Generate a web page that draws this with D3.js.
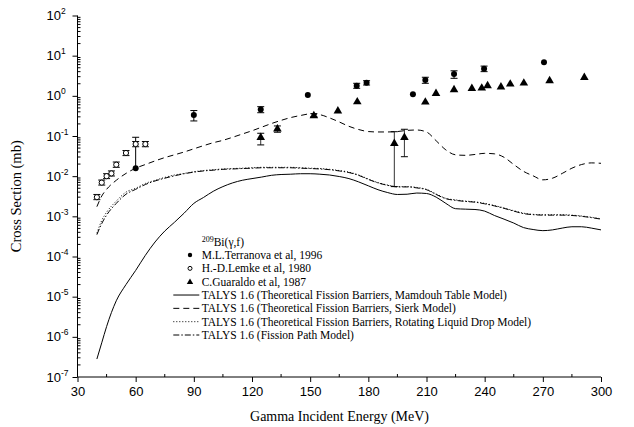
<!DOCTYPE html>
<html><head><meta charset="utf-8">
<script src="https://cdn.jsdelivr.net/npm/d3@7"></script>
<style>
html,body{margin:0;padding:0;background:#fff;}
svg{display:block;}
</style></head>
<body>
<svg id="chart" width="634" height="427"></svg>
<script>
// ---------------- data ----------------
const energyGrid = [40,42.5,45,50,55,60,65,70,75,80,85,90,95,100,105,110,115,120,125,130,135,140,145,150,155,160,165,170,175,180,185,190,195,200,205,210,215,220,225,230,235,240,245,250,255,260,265,270,275,280,285,290,295,300];

const mamdouh = [2.8e-7,7.1e-7,1.8e-6,7.9e-6,2.0e-5,4.5e-5,1.07e-4,2.3e-4,4.3e-4,7.1e-4,1.2e-3,2.1e-3,2.95e-3,4.2e-3,5.5e-3,6.8e-3,7.9e-3,8.7e-3,9.5e-3,1.05e-2,1.1e-2,1.12e-2,1.15e-2,1.15e-2,1.12e-2,1.07e-2,9.8e-3,8.7e-3,7.2e-3,5.75e-3,4.6e-3,3.9e-3,3.5e-3,3.55e-3,3.8e-3,3.7e-3,3.0e-3,2.1e-3,1.55e-3,1.51e-3,1.48e-3,1.35e-3,1.05e-3,8.5e-4,6.8e-4,5.25e-4,4.7e-4,4.4e-4,4.6e-4,5.1e-4,5.5e-4,5.5e-4,5.1e-4,4.6e-4];

const sierk = [1.74e-3,3.2e-3,4.7e-3,7.9e-3,1.17e-2,1.58e-2,1.95e-2,2.4e-2,2.9e-2,3.4e-2,4.0e-2,4.8e-2,5.75e-2,6.8e-2,7.8e-2,9.3e-2,0.112,0.135,0.166,0.204,0.245,0.288,0.324,0.355,0.339,0.282,0.224,0.174,0.145,0.129,0.126,0.126,0.129,0.138,0.141,0.126,0.076,0.045,0.034,0.033,0.0347,0.037,0.036,0.0295,0.0195,0.0132,0.0102,0.0081,0.0089,0.0117,0.0158,0.0195,0.0214,0.0209];

const rldm = [3.8e-4,7.9e-4,1.26e-3,2.4e-3,4.0e-3,5.0e-3,6.6e-3,7.9e-3,9.3e-3,1.07e-2,1.17e-2,1.29e-2,1.38e-2,1.45e-2,1.51e-2,1.55e-2,1.58e-2,1.62e-2,1.66e-2,1.66e-2,1.66e-2,1.66e-2,1.62e-2,1.58e-2,1.55e-2,1.48e-2,1.38e-2,1.26e-2,1.07e-2,8.5e-3,6.9e-3,6.0e-3,5.5e-3,5.5e-3,5.25e-3,4.7e-3,3.6e-3,2.8e-3,2.57e-3,2.4e-3,2.3e-3,2.1e-3,1.86e-3,1.62e-3,1.38e-3,1.2e-3,1.12e-3,1.1e-3,1.1e-3,1.1e-3,1.07e-3,1.02e-3,9.5e-4,8.7e-4];

const fissionPath = [3.5e-4,6.6e-4,1.07e-3,2.1e-3,3.55e-3,4.7e-3,6.2e-3,7.6e-3,8.9e-3,1.02e-2,1.15e-2,1.26e-2,1.35e-2,1.41e-2,1.48e-2,1.51e-2,1.55e-2,1.58e-2,1.62e-2,1.62e-2,1.62e-2,1.62e-2,1.58e-2,1.55e-2,1.51e-2,1.45e-2,1.35e-2,1.23e-2,1.05e-2,8.3e-3,6.8e-3,5.9e-3,5.4e-3,5.4e-3,5.1e-3,4.6e-3,3.5e-3,2.75e-3,2.5e-3,2.35e-3,2.25e-3,2.05e-3,1.82e-3,1.58e-3,1.35e-3,1.17e-3,1.1e-3,1.07e-3,1.07e-3,1.07e-3,1.05e-3,1.0e-3,9.3e-4,8.5e-4];

// Terranova 1996 (filled circles): energy, value, upper, lower (null = no bar)
const terranovaE   = [60, 90, 124.5, 148.8, 174, 179.1, 203, 209.4, 224.2, 239.7, 270.6];
const terranovaV   = [0.0157, 0.333, 0.46, 1.05, 1.79, 2.12, 1.09, 2.48, 3.5, 4.74, 6.84];
const terranovaHi  = [0.093, 0.43, 0.537, null, 2.05, 2.38, null, 2.9, 4.2, 5.5, null];
const terranovaLo  = [null, 0.237, 0.38, null, 1.54, 1.86, null, 2.05, 2.73, 4.0, null];

// Lemke 1980 (open circles)
const lemkeE  = [40, 42.5, 45, 47.5, 50, 55, 60, 65];
const lemkeV  = [0.0030, 0.0069, 0.0100, 0.0117, 0.0193, 0.0378, 0.063, 0.063];
const lemkeHi = [0.0035, 0.0080, 0.0115, 0.0135, 0.0225, 0.0435, 0.073, 0.073];
const lemkeLo = [0.0026, 0.0060, 0.0087, 0.0101, 0.0166, 0.0325, 0.054, 0.054];

// Guaraldo 1987 (triangles)
const guaraldoE  = [124.5, 133.1, 151.9, 164.3, 174.3, 193.4, 198.6, 209.4, 214.9, 224.2, 233.4, 238.5, 241.5, 248.4, 253.2, 260.2, 273.5, 291.4];
const guaraldoV  = [0.096, 0.156, 0.333, 0.44, 0.74, 0.068, 0.096, 0.73, 1.2, 1.48, 1.6, 1.63, 1.86, 1.73, 2.05, 2.17, 2.48, 3.0];
const guaraldoHi = [0.117, 0.178, 0.36, null, null, 0.128, 0.147, null, null, null, null, null, null, null, null, null, null, null];
const guaraldoLo = [0.060, 0.124, 0.30, null, null, 0.0055, 0.0305, null, null, null, null, null, null, null, null, null, null, null];

const xTicks = [30, 60, 90, 120, 150, 180, 210, 240, 270, 300];
const xMinorTicks = [45, 75, 105, 135, 165, 195, 225, 255, 285];
const yExponents = [2, 1, 0, -1, -2, -3, -4, -5, -6, -7];

const legendHeader = "Bi(γ,f)";
const legendHeaderSup = "209";
const legendLabels = [
  "M.L.Terranova et al, 1996",
  "H.-D.Lemke et al, 1980",
  "C.Guaraldo et al, 1987",
  "TALYS 1.6 (Theoretical Fission Barriers, Mamdouh Table Model)",
  "TALYS 1.6 (Theoretical Fission Barriers, Sierk Model)",
  "TALYS 1.6 (Theoretical Fission Barriers, Rotating Liquid Drop Model)",
  "TALYS 1.6 (Fission Path Model)"
];
const xTitle = "Gamma Incident Energy (MeV)";
const yTitle = "Cross Section (mb)";

// ---------------- drawing ----------------
const svg = d3.select("#chart");
const L = 77.5, R = 601, T = 15.5, B = 377;
const x = d3.scaleLinear().domain([30, 300]).range([L, R]);
const y = d3.scaleLog().domain([1e-7, 1e2]).range([B, T]);

const serif = "'Liberation Serif','Times New Roman',serif";
const sans = "'Liberation Sans',Arial,sans-serif";

// curves
const curves = [
  {vals: mamdouh, dash: null},
  {vals: sierk, dash: "6,4"},
  {vals: rldm, dash: "1,2"},
  {vals: fissionPath, dash: "6,2,1.5,2"}
];
const line = d3.line().x(d => x(d[0])).y(d => y(d[1])).curve(d3.curveMonotoneX);
curves.forEach(c => {
  svg.append("path")
    .attr("d", line(energyGrid.map((e, i) => [e, c.vals[i]])))
    .attr("fill", "none").attr("stroke", "#000").attr("stroke-width", 1)
    .attr("stroke-dasharray", c.dash);
});

// error bars helper
function errorBars(E, V, Hi, Lo, capW, color) {
  E.forEach((e, i) => {
    const cx = x(e);
    if (Hi[i] == null && Lo[i] == null) return;
    const top = Hi[i] != null ? y(Hi[i]) : y(V[i]);
    const bot = Lo[i] != null ? y(Lo[i]) : y(V[i]);
    svg.append("line").attr("x1", cx).attr("x2", cx).attr("y1", top).attr("y2", bot)
      .attr("stroke", color).attr("stroke-width", 1);
    if (Hi[i] != null) svg.append("line").attr("x1", cx - capW/2).attr("x2", cx + capW/2)
      .attr("y1", top).attr("y2", top).attr("stroke", "#000").attr("stroke-width", 1);
    if (Lo[i] != null) svg.append("line").attr("x1", cx - capW/2).attr("x2", cx + capW/2)
      .attr("y1", bot).attr("y2", bot).attr("stroke", "#000").attr("stroke-width", 1);
  });
}
errorBars(lemkeE, lemkeV, lemkeHi, lemkeLo, 7, "#000");
errorBars(terranovaE, terranovaV, terranovaHi, terranovaLo, 7, "#000");
errorBars(guaraldoE, guaraldoV, guaraldoHi, guaraldoLo, 7, "#333");

const tri = d3.symbol().type(d3.symbolTriangle);

// Lemke open circles
svg.selectAll(".lemke").data(lemkeE).enter().append("circle")
  .attr("cx", d => x(d)).attr("cy", (d, i) => y(lemkeV[i])).attr("r", 2.6)
  .attr("fill", "#fff").attr("stroke", "#000").attr("stroke-width", 1);
// Terranova filled circles
svg.selectAll(".terr").data(terranovaE).enter().append("circle")
  .attr("cx", d => x(d)).attr("cy", (d, i) => y(terranovaV[i])).attr("r", 3)
  .attr("fill", "#000");
// Guaraldo triangles
svg.selectAll(".guar").data(guaraldoE).enter().append("path")
  .attr("d", tri.size(32)())
  .attr("transform", (d, i) => `translate(${x(d)},${y(guaraldoV[i]) + 0.8})`)
  .attr("fill", "#000");

// axes
const axisG = svg.append("g");
axisG.append("line").attr("x1", L).attr("x2", R).attr("y1", B).attr("y2", B).attr("stroke", "#000");
axisG.append("line").attr("x1", L).attr("x2", L).attr("y1", T).attr("y2", B).attr("stroke", "#000");

const xAxis = d3.axisBottom(x).tickValues(xTicks).tickSize(5).tickSizeOuter(0).tickFormat(d3.format("d"));
const gx = svg.append("g").attr("transform", `translate(0,${B})`).call(xAxis);
gx.select(".domain").remove();
gx.selectAll("text").attr("font-family", sans).attr("font-size", 13).attr("dy", "0.95em").attr("y", 7);
svg.append("g").selectAll("line").data(xMinorTicks).enter().append("line")
  .attr("x1", d => x(d)).attr("x2", d => x(d)).attr("y1", B).attr("y2", B - 3)
  .attr("stroke", "#000");

// y axis: major ticks outward, minor inward
const yMajor = yExponents.map(e => Math.pow(10, e));
const yAxis = d3.axisLeft(y).tickValues(yMajor).tickSize(5).tickSizeOuter(0).tickFormat("");
const gy = svg.append("g").attr("transform", `translate(${L},0)`).call(yAxis);
gy.select(".domain").remove();
const yMinor = [];
for (let e = -7; e < 2; e++) for (let m = 2; m <= 9; m++) yMinor.push(m * Math.pow(10, e));
svg.append("g").selectAll("line").data(yMinor).enter().append("line")
  .attr("x1", L).attr("x2", L + 3).attr("y1", d => y(d)).attr("y2", d => y(d))
  .attr("stroke", "#000");

// y tick labels 10^n
const ylab = svg.append("g");
yExponents.forEach(e => {
  const t = ylab.append("text").attr("x", 46.5).attr("y", y(Math.pow(10, e)) + 4.5)
    .attr("font-family", sans).attr("font-size", 13).attr("text-anchor", "start");
  t.append("tspan").text("10");
  t.append("tspan").attr("dy", -6).attr("font-size", 8.5).text(String(e));
});

// axis titles
svg.append("text").attr("x", 339.5).attr("y", 421).attr("text-anchor", "middle")
  .attr("font-family", serif).attr("font-size", 14).text(xTitle);
svg.append("text").attr("transform", `translate(21,${(T + B) / 2}) rotate(-90)`)
  .attr("text-anchor", "middle").attr("font-family", serif).attr("font-size", 14.5).text(yTitle);

// legend
const lg = svg.append("g");
const lx = 201.7, rowY0 = 241.7, rowH = 13.33;
const hdr = lg.append("text").attr("x", lx).attr("y", rowY0 + 4).attr("font-family", serif).attr("font-size", 11.5);
hdr.append("tspan").attr("font-size", 8).attr("dy", -4).text(legendHeaderSup);
hdr.append("tspan").attr("dy", 4).text(legendHeader);
legendLabels.forEach((lab, i) => {
  const cy = rowY0 + rowH * (i + 1);
  lg.append("text").attr("x", lx).attr("y", cy + 4).attr("font-family", serif).attr("font-size", 11.5).text(lab);
  if (i === 0) lg.append("circle").attr("cx", 190).attr("cy", cy).attr("r", 2.2).attr("fill", "#000");
  else if (i === 1) lg.append("circle").attr("cx", 190).attr("cy", cy).attr("r", 2).attr("fill", "#fff").attr("stroke", "#000");
  else if (i === 2) lg.append("path").attr("d", d3.symbol().type(d3.symbolTriangle).size(18)())
      .attr("transform", `translate(190,${cy + 0.5})`).attr("fill", "#000");
  else {
    lg.append("line").attr("x1", 173.3).attr("x2", 199.3).attr("y1", cy).attr("y2", cy)
      .attr("stroke", "#000").attr("stroke-width", 1).attr("stroke-dasharray", curves[i - 3].dash);
  }
});
</script>
</body></html>
